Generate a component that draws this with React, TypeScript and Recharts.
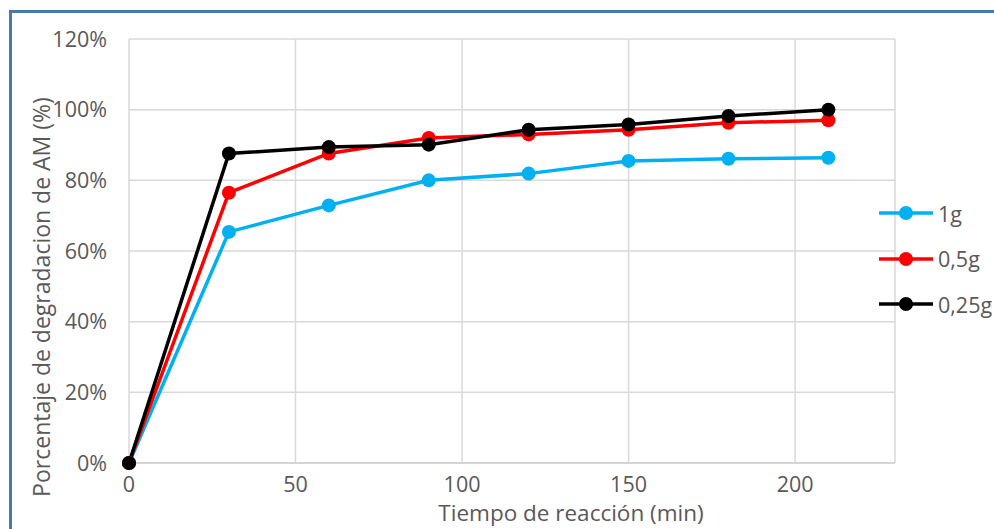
import React from 'react'
import { LineChart, Line, XAxis, YAxis, CartesianGrid } from 'recharts'

// reaction time (min) and fraction of AM degraded for each catalyst dose
const minutes = [0, 30, 60, 90, 120, 150, 180, 210]
const deg1g = [0, 0.654, 0.729, 0.8, 0.819, 0.855, 0.861, 0.864]
const deg05g = [0, 0.765, 0.876, 0.92, 0.93, 0.943, 0.963, 0.97]
const deg025g = [0, 0.876, 0.894, 0.901, 0.943, 0.958, 0.982, 1.0]
const xTicks = [0, 50, 100, 150, 200]
const yTicks = [0, 0.2, 0.4, 0.6, 0.8, 1.0, 1.2]

const series = [
  { key: 'g1', name: '1g', color: '#00b0f0' },
  { key: 'g05', name: '0,5g', color: '#ff0000' },
  { key: 'g025', name: '0,25g', color: '#000000' },
]

const data = minutes.map((t, i) => ({ t, g1: deg1g[i], g05: deg05g[i], g025: deg025g[i] }))

const font = '"Open Sans", "Noto Sans", sans-serif'
const grey = '#595959'

export default function App() {
  return (
    <div style={{ position: 'absolute', left: 0, top: 0, width: 994, height: 529, background: '#fff', fontFamily: font, overflow: 'hidden' }}>
      <div style={{ position: 'absolute', left: 9, top: 10, width: 1000, height: 600, borderLeft: '3px solid #4a78ad', borderTop: '3px solid #4a78ad' }} />
      <LineChart width={994} height={529} data={data} margin={{ top: 39, right: 99, left: 69, bottom: 26 }}>
        <CartesianGrid stroke="#d9d9d9" strokeWidth={1.5} />
        <XAxis
          dataKey="t"
          type="number"
          domain={[0, 230]}
          ticks={xTicks}
          height={40}
          tickLine={false}
          tickSize={0}
          tickMargin={14}
          axisLine={{ stroke: '#d0d0d0', strokeWidth: 1.5 }}
          tick={{ fill: grey, fontSize: 21.5, fontFamily: font }}
        />
        <YAxis
          type="number"
          domain={[0, 1.2]}
          ticks={yTicks}
          width={60}
          tickLine={false}
          axisLine={false}
          tickSize={0}
          tickMargin={22}
          tickFormatter={(v: number) => `${Math.round(v * 100)}%`}
          tick={{ fill: grey, fontSize: 21.5, fontFamily: font }}
        />
        {series.map((s) => (
          <Line
            key={s.key}
            dataKey={s.key}
            name={s.name}
            stroke={s.color}
            strokeWidth={3.5}
            dot={{ r: 7, fill: s.color, stroke: s.color, strokeWidth: 0 }}
            activeDot={false}
            isAnimationActive={false}
          />
        ))}
      </LineChart>
      <div style={{ position: 'absolute', left: 571, top: 513, transform: 'translate(-50%, -50%)', whiteSpace: 'nowrap', fontSize: 22.5, lineHeight: '24px', color: grey }}>
        Tiempo de reacción (min)
      </div>
      <div style={{ position: 'absolute', left: 41, top: 297, transform: 'translate(-50%, -50%) rotate(-90deg)', whiteSpace: 'nowrap', fontSize: 23, color: grey }}>
        Porcentaje de degradacion de AM (%)
      </div>
      {series.map((s, i) => (
        <div key={s.key} style={{ position: 'absolute', left: 879, top: 213 + i * 45.5 - 15, height: 30, display: 'flex', alignItems: 'center', fontSize: 21.5, color: grey }}>
          <svg width={54} height={16} style={{ marginRight: 5 }}>
            <line x1={0} y1={8} x2={54} y2={8} stroke={s.color} strokeWidth={3.5} />
            <circle cx={27} cy={8} r={7} fill={s.color} />
          </svg>
          {s.name}
        </div>
      ))}
    </div>
  )
}
